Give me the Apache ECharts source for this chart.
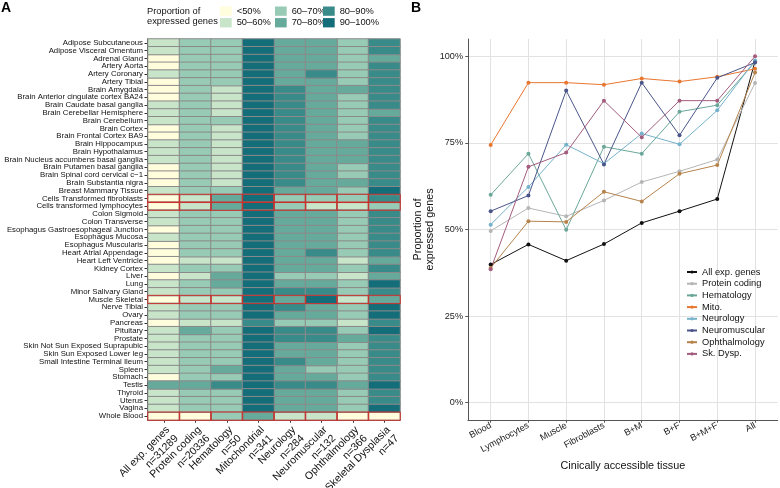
<!DOCTYPE html>
<html><head><meta charset="utf-8">
<script src="https://cdn.jsdelivr.net/npm/echarts@6/dist/echarts.min.js"></script>
<style>html,body{margin:0;padding:0;background:#fff}#c{width:780px;height:488px}</style>
</head><body><div id="c"></div>
<script>
// ---------- Panel A data ----------
const tissues = ['Adipose Subcutaneous','Adipose Visceral Omentum','Adrenal Gland','Artery Aorta','Artery Coronary','Artery Tibial','Brain Amygdala','Brain Anterior cingulate cortex BA24','Brain Caudate basal ganglia','Brain Cerebellar Hemisphere','Brain Cerebellum','Brain Cortex','Brain Frontal Cortex BA9','Brain Hippocampus','Brain Hypothalamus','Brain Nucleus accumbens basal ganglia','Brain Putamen basal ganglia','Brain Spinal cord cervical c\u22121','Brain Substantia nigra','Breast Mammary Tissue','Cells Transformed fibroblasts','Cells transformed lymphocytes','Colon Sigmoid','Colon Transverse','Esophagus Gastroesophageal Junction','Esophagus Mucosa','Esophagus Muscularis','Heart Atrial Appendage','Heart Left Ventricle','Kidney Cortex','Liver','Lung','Minor Salivary Gland','Muscle Skeletal','Nerve Tibial','Ovary','Pancreas','Pituitary','Prostate','Skin Not Sun Exposed Suprapubic','Skin Sun Exposed Lower leg','Small Intestine Terminal Ileum','Spleen','Stomach','Testis','Thyroid','Uterus','Vagina','Whole Blood'];
const heatCols = ['All exp. genes','Protein coding','Hematology','Mitochondrial','Neurology','Neuromuscular','Ophthalmology','Skeletal Dysplasia'];
const heatN = [31289, 20336, 50, 341, 284, 132, 366, 47];
const classLabels = ['<50%','50\u201360%','60\u201370%','70\u201380%','80\u201390%','90\u2013100%'];
const classColors = ['#FFFDDC','#C8E4C9','#98CBB5','#66AA9C','#398B89','#136E7A'];
const highlightRows = ['Cells Transformed fibroblasts','Cells transformed lymphocytes','Muscle Skeletal','Whole Blood'];
// proportion class per tissue (index into classLabels), one array per gene set
const clsAllExp    = [1,1,0,0,1,0,0,0,1,1,1,0,0,1,1,1,0,0,0,1,0,0,1,1,0,1,0,0,0,1,0,1,1,0,1,1,0,1,1,1,1,1,1,0,3,1,1,1,0];
const clsProtein   = [2,2,2,2,2,2,2,2,2,2,2,2,2,2,2,2,2,2,2,2,1,1,2,2,2,2,2,2,1,2,1,2,2,1,2,2,1,3,2,2,2,2,2,2,3,2,2,2,0];
const clsHemato    = [2,2,2,2,2,2,1,1,1,1,2,1,1,1,1,1,1,1,1,2,3,3,2,2,2,2,2,2,1,2,3,3,2,1,2,2,1,2,2,2,2,2,3,2,4,2,2,2,2];
const clsMito      = [5,5,5,5,5,5,5,5,5,5,5,5,5,5,5,5,5,5,5,5,5,5,5,5,5,5,5,5,5,5,5,5,5,5,5,5,4,5,5,5,5,5,5,5,5,5,5,5,3];
const clsNeuro     = [3,3,3,3,3,3,4,4,4,4,4,4,4,4,4,4,4,4,4,3,2,2,3,3,3,3,3,3,3,3,2,3,4,3,4,3,2,4,4,3,3,4,3,3,4,3,3,3,1];
const clsNeuromusc = [3,3,3,3,4,3,3,3,3,3,3,3,3,3,3,3,3,3,3,3,2,1,3,3,3,3,3,4,3,3,2,3,4,5,3,3,2,4,4,3,3,3,2,3,4,3,3,3,1];
const clsOphthal   = [2,2,2,2,2,2,3,2,2,2,2,2,2,3,3,3,2,2,3,2,2,1,2,2,2,2,2,2,1,2,1,2,2,1,2,2,1,2,3,2,2,2,2,2,3,2,2,2,0];
const clsSkeletal  = [4,4,3,4,4,4,4,4,4,3,4,4,4,4,4,4,4,4,4,5,4,2,4,4,4,4,4,4,3,4,3,5,4,3,5,5,4,5,4,4,4,4,4,4,5,4,4,5,0];
const classColumns = [clsAllExp, clsProtein, clsHemato, clsMito, clsNeuro, clsNeuromusc, clsOphthal, clsSkeletal];

// ---------- Panel B data ----------
const accessTissues = ['Blood','Lymphocytes','Muscle','Fibroblasts','B+M','B+F','B+M+F','All'];
const geneSets = ['All exp. genes','Protein coding','Hematology','Mito.','Neurology','Neuromuscular','Ophthalmology','Sk. Dysp.'];
const lineColors = ['#111111','#B5B5B5','#6AA798','#E8762F','#74B1CA','#4A5589','#B5834B','#A35C7E'];
const allExpGenes   = [0.399,0.457,0.410,0.458,0.519,0.553,0.588,0.986];
const proteinCoding = [0.496,0.562,0.538,0.584,0.637,0.668,0.702,0.923];
const hematology    = [0.600,0.719,0.499,0.739,0.719,0.840,0.859,0.984];
const mito          = [0.744,0.924,0.924,0.918,0.936,0.927,0.941,0.964];
const neurology     = [0.514,0.623,0.745,0.690,0.777,0.746,0.844,0.988];
const neuromuscular = [0.553,0.598,0.901,0.688,0.924,0.772,0.938,0.982];
const ophthalmology = [0.389,0.524,0.522,0.609,0.581,0.661,0.686,0.953];
const skDysp        = [0.385,0.681,0.722,0.872,0.766,0.872,0.872,1.000];
const lineValues = [allExpGenes, proteinCoding, hematology, mito, neurology, neuromuscular, ophthalmology, skDysp];
const yTicks = [0, 0.25, 0.5, 0.75, 1];
const xTicks = [0,1,2,3,4,5,6,7];

const FONT = '"Liberation Sans", Arial, Helvetica, sans-serif';
const chart = echarts.init(document.getElementById('c'), null, {renderer:'canvas'});

const heatSeries = classLabels.map((lab, c) => {
  const data = [];
  classColumns.forEach((col, xi) => col.forEach((v, yi) => { if (v === c) data.push([xi, yi, c]); }));
  return {
    type:'heatmap', name: lab, xAxisIndex:0, yAxisIndex:0, data,
    itemStyle:{color: classColors[c], borderColor:'#8A8A8A', borderWidth:1},
    emphasis:{disabled:true}, silent:true, z:2
  };
});
const hlData = [];
highlightRows.forEach(r => { const yi = tissues.indexOf(r); heatCols.forEach((h, xi) => hlData.push([xi, yi, 0])); });
heatSeries.push({
  type:'heatmap', name:'hl', xAxisIndex:0, yAxisIndex:0, data: hlData,
  itemStyle:{color:'rgba(0,0,0,0)', borderColor:'#C8322E', borderWidth:1},
  emphasis:{disabled:true}, silent:true, z:3
});

const lineSeries = geneSets.map((g, i) => ({
  type:'line', name:g, xAxisIndex:1, yAxisIndex:1,
  data: lineValues[i].map((v, k) => [k, v]),
  symbol:'circle', symbolSize:4, showSymbol:true,
  lineStyle:{width:1, color: lineColors[i]}, itemStyle:{color: lineColors[i]},
  emphasis:{disabled:true}, silent:true, animation:false
}));

const legTxt = {fontFamily: FONT, fontSize: 9.3, color:'#111'};
const option = {
  animation:false,
  textStyle:{fontFamily: FONT},
  title:[
    {text:'A', left:1, top:1, padding:0, textStyle:{fontFamily:FONT, fontSize:14, fontWeight:'bold', color:'#000'}},
    {text:'B', left:411, top:1, padding:0, textStyle:{fontFamily:FONT, fontSize:14, fontWeight:'bold', color:'#000'}},
    {text:'Proportion of\nexpressed genes', left:147, top:6, padding:0, textStyle:{fontFamily:FONT, fontSize:9.3, fontWeight:'normal', color:'#111', lineHeight:10.5}}
  ],
  legend:[
    {data:[classLabels[0], classLabels[1]], orient:'vertical', left:220, top:6.5, padding:0, itemWidth:11.7, itemHeight:9.3, itemGap:2.3, icon:'rect', selectedMode:false, textStyle:legTxt, itemStyle:{borderWidth:0}},
    {data:[classLabels[2], classLabels[3]], orient:'vertical', left:275, top:6.5, padding:0, itemWidth:11.7, itemHeight:9.3, itemGap:2.3, icon:'rect', selectedMode:false, textStyle:legTxt, itemStyle:{borderWidth:0}},
    {data:[classLabels[4], classLabels[5]], orient:'vertical', left:323, top:6.5, padding:0, itemWidth:11.7, itemHeight:9.3, itemGap:2.3, icon:'rect', selectedMode:false, textStyle:legTxt, itemStyle:{borderWidth:0}},
    {data: geneSets, orient:'vertical', left:686, top:267.5, padding:0, itemWidth:10, itemHeight:4, itemGap:2.7, selectedMode:false, textStyle:legTxt}
  ],
  grid:[
    {left:148, top:39, width:252, height:381, outerBoundsMode:'none', containLabel:false},
    {left:468, top:39, width:309.7, height:381, outerBoundsMode:'none', containLabel:false}
  ],
  xAxis:[
    {type:'category', gridIndex:0, data: heatCols, position:'bottom',
     axisLine:{show:true, lineStyle:{color:'#000', width:1}},
     axisTick:{show:true, alignWithLabel:true, length:2.7, lineStyle:{color:'#333'}},
     axisLabel:{interval:0, rotate:45, margin:4, fontFamily:FONT, fontSize:10.6, color:'#111', lineHeight:12,
       align:'right', verticalAlign:'top',
       formatter:(v, i) => v + '\nn=' + heatN[i]},
     splitLine:{show:false}},
    {type:'value', gridIndex:1, min:-0.6, max:7.6,
     axisLine:{show:true, onZero:false, lineStyle:{color:'#555', width:1}},
     axisTick:{show:true, customValues: xTicks, length:2.7, lineStyle:{color:'#555'}},
     axisLabel:{customValues: xTicks, rotate:28, margin:5, fontFamily:FONT, fontSize:9.1, color:'#222',
       formatter:(v) => accessTissues[Math.round(v)]},
     splitLine:{show:true, lineStyle:{color:'#E2E2E2', width:1}},
     name:'Cinically accessible tissue', nameLocation:'middle', nameGap:41,
     nameTextStyle:{fontFamily:FONT, fontSize:10.8, color:'#111'}}
  ],
  yAxis:[
    {type:'category', gridIndex:0, data: tissues, inverse:true, offset:1,
     axisLine:{show:true, lineStyle:{color:'#000', width:1}},
     axisTick:{show:true, alignWithLabel:true, length:2.5, lineStyle:{color:'#333'}},
     axisLabel:{interval:0, margin:4, fontFamily:FONT, fontSize:7.8, color:'#111'},
     splitLine:{show:false}},
    {type:'value', gridIndex:1, min:-0.05, max:1.05,
     axisLine:{show:true, onZero:false, lineStyle:{color:'#555', width:1}},
     axisTick:{show:true, customValues: yTicks, length:2.7, lineStyle:{color:'#555'}},
     axisLabel:{customValues: yTicks, margin:5, fontFamily:FONT, fontSize:9.1, color:'#222',
       formatter:(v) => Math.round(v*100) + '%'},
     splitLine:{show:true, lineStyle:{color:'#E2E2E2', width:1}},
     name:'Proportion of\nexpressed genes', nameLocation:'middle', nameRotate:90, nameGap:31,
     nameTextStyle:{fontFamily:FONT, fontSize:10.8, color:'#111', lineHeight:12}}
  ],
  series: heatSeries.concat(lineSeries)
};
chart.setOption(option);
</script>
</body></html>
